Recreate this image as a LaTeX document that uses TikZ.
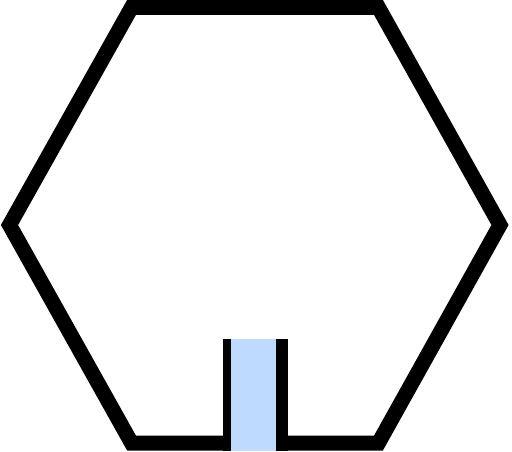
\documentclass[tikz,border=0pt]{standalone}
\definecolor{paleblue}{RGB}{190,218,254}
\begin{document}
\begin{tikzpicture}[x=1pt,y=-1pt,
  hexline/.style={draw=black,line width=15pt,line join=miter},
  sidebar/.style={fill=black,draw=none}]
\useasboundingbox (0,0) rectangle (512,452);
\draw[hexline] (131.5,7.5) -- (378.5,7.5) -- (500,225) -- (378.5,443) -- (131.5,443) -- (9.5,225) -- cycle;
\fill[paleblue] (231,338.5) rectangle (276,451);
\fill[black] (223,338.5) rectangle (231,451);
\fill[black] (276,338.5) rectangle (288,451);
\end{tikzpicture}
\end{document}
